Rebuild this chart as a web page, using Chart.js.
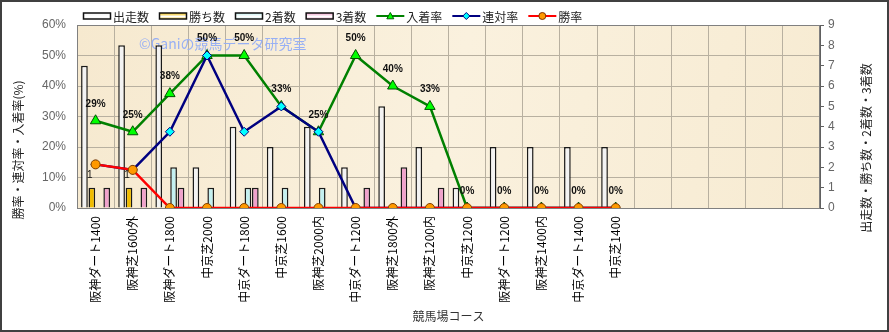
<!DOCTYPE html>
<html lang="ja">
<head>
<meta charset="UTF-8">
<title>競馬場コース別成績</title>
<script src="https://cdn.jsdelivr.net/npm/chart.js"></script>
<style>
  html, body { margin: 0; padding: 0; background: #fff; }
  #wrap { width: 889px; height: 332px; }
</style>
</head>
<body>
<div id="wrap"><canvas id="courseChart" width="889" height="332"></canvas></div>
<script>
// コース名と成績
const courses = ['阪神ダート1400', '阪神芝1600外', '阪神ダート1800', '中京芝2000', '中京ダート1800',
  '中京芝1600', '阪神芝2000内', '中京ダート1200', '阪神芝1800外', '阪神芝1200内',
  '中京芝1200', '阪神ダート1200', '阪神芝1400内', '中京ダート1400', '中京芝1400'];
const starts  = [7, 8, 8, 2, 4, 3, 4, 2, 5, 3, 1, 3, 3, 3, 3];   // 出走数
const wins    = [1, 1, 0, 0, 0, 0, 0, 0, 0, 0, 0, 0, 0, 0, 0];   // 勝ち数
const seconds = [0, 0, 2, 1, 1, 1, 1, 0, 0, 0, 0, 0, 0, 0, 0];   // 2着数
const thirds  = [1, 1, 1, 0, 1, 0, 0, 1, 2, 1, 0, 0, 0, 0, 0];   // 3着数
const placeRate = [28.6, 25, 37.5, 50, 50, 33.3, 25, 50, 40, 33.3, 0, 0, 0, 0, 0];  // 入着率
const quinRate  = [14.3, 12.5, 25, 50, 25, 33.3, 25, 0, 0, 0, 0, 0, 0, 0, 0];      // 連対率
const winRate   = [14.3, 12.5, 0, 0, 0, 0, 0, 0, 0, 0, 0, 0, 0, 0, 0];            // 勝率
const rateTicks  = [0, 10, 20, 30, 40, 50, 60];
const countTicks = [0, 1, 2, 3, 4, 5, 6, 7, 8, 9];
const slotCount = 20;   // 軸の枠数 (空き枠あり)

const labels = courses.concat(Array(slotCount - courses.length).fill(''));
const jp = '"Noto Sans CJK JP", sans-serif';

function drawMarker(ctx, type, x, y, r, fill, stroke) {
  ctx.beginPath();
  if (type === 'triangle') {
    ctx.moveTo(x, y - r); ctx.lineTo(x + r, y + r * 0.8); ctx.lineTo(x - r, y + r * 0.8); ctx.closePath();
  } else if (type === 'diamond') {
    ctx.moveTo(x, y - r); ctx.lineTo(x + r, y); ctx.lineTo(x, y + r); ctx.lineTo(x - r, y); ctx.closePath();
  } else {
    ctx.arc(x, y, r, 0, Math.PI * 2);
  }
  ctx.fillStyle = fill; ctx.fill();
  ctx.lineWidth = 1; ctx.strokeStyle = stroke; ctx.stroke();
}

const decor = {
  id: 'decor',
  beforeDraw(chart) {
    const { ctx, chartArea: a } = chart;
    ctx.save();
    ctx.fillStyle = '#fff';
    ctx.fillRect(0, 0, chart.width, chart.height);
    const g = ctx.createLinearGradient(a.left, a.top, a.right, a.bottom);
    g.addColorStop(0, '#f6e9cf');
    g.addColorStop(0.5, '#faf1de');
    g.addColorStop(1, '#f7ebd2');
    ctx.fillStyle = g;
    ctx.fillRect(a.left, a.top, a.right - a.left, a.bottom - a.top);
    ctx.restore();
  },
  beforeDatasetsDraw(chart) {
    const ctx = chart.ctx;
    ctx.save();
    ctx.font = '14px ' + jp;
    ctx.fillStyle = '#98b0f4';
    ctx.textBaseline = 'middle';
    ctx.fillText('©Ganiの競馬データ研究室', 139, 44);
    ctx.restore();
  },
  afterDatasetsDraw(chart) {
    const ctx = chart.ctx;
    ctx.save();
    ctx.textAlign = 'center';
    ctx.textBaseline = 'middle';
    ctx.fillStyle = '#111';
    // 入着率ラベル
    ctx.font = 'bold 10px "Liberation Sans", sans-serif';
    chart.getDatasetMeta(4).data.forEach((p, i) => {
      ctx.fillText(Math.round(placeRate[i]) + '%', p.x, p.y - 17);
    });
    // 勝ち数ラベル
    ctx.font = '10px "Liberation Sans", sans-serif';
    chart.getDatasetMeta(1).data.forEach((b, i) => {
      if (wins[i] > 0) ctx.fillText(String(wins[i]), b.x - 2, b.y - 12);
    });
    ctx.restore();
  },
  afterDraw(chart) {
    const { ctx, chartArea: a } = chart;
    ctx.save();
    // プロット枠
    ctx.strokeStyle = '#808080';
    ctx.lineWidth = 1;
    ctx.strokeRect(a.left + 0.5, a.top + 0.5, a.right - a.left - 1, a.bottom - a.top);

    // 凡例
    const items = [
      { t: '出走数', kind: 'bar', c: '#f2f2f2' },
      { t: '勝ち数', kind: 'bar', c: '#f0bc00' },
      { t: '2着数', kind: 'bar', c: '#c4f0f0' },
      { t: '3着数', kind: 'bar', c: '#f0a2cc' },
      { t: '入着率', kind: 'line', c: '#008000', m: 'triangle', mf: '#00ff00', ms: '#006000' },
      { t: '連対率', kind: 'line', c: '#000080', m: 'diamond', mf: '#00ffff', ms: '#000080' },
      { t: '勝率', kind: 'line', c: '#ff0000', m: 'circle', mf: '#ff9900', ms: '#803000' }
    ];
    ctx.font = '12px ' + jp;
    ctx.textBaseline = 'middle';
    let x = 83;
    const y = 16;
    items.forEach(it => {
      if (it.kind === 'bar') {
        const g = ctx.createLinearGradient(0, y - 3, 0, y + 4);
        g.addColorStop(0, it.c); g.addColorStop(0.5, '#ffffff'); g.addColorStop(1, it.c);
        ctx.fillStyle = g;
        ctx.fillRect(x, y - 3, 28, 6);
        ctx.strokeStyle = '#111'; ctx.lineWidth = 1.5;
        ctx.strokeRect(x + 0.5, y - 3, 27, 6);
      } else {
        ctx.strokeStyle = it.c; ctx.lineWidth = 2;
        ctx.beginPath(); ctx.moveTo(x, y); ctx.lineTo(x + 28, y); ctx.stroke();
        drawMarker(ctx, it.m, x + 14, y, 3.5, it.mf, it.ms);
      }
      ctx.fillStyle = '#222';
      ctx.fillText(it.t, x + 30, y + 1);
      x += 30 + ctx.measureText(it.t).width + 10;
    });

    // 軸タイトル
    ctx.font = '12px ' + jp;
    ctx.fillStyle = '#222';
    ctx.textAlign = 'center';
    ctx.save();
    ctx.translate(18, 150); ctx.rotate(-Math.PI / 2);
    ctx.fillText('勝率・連対率・入着率(%)', 0, 0);
    ctx.restore();
    ctx.save();
    ctx.translate(866, 148); ctx.rotate(-Math.PI / 2);
    ctx.fillText('出走数・勝ち数・2着数・3着数', 0, 0);
    ctx.restore();

    // 外枠
    ctx.strokeStyle = '#404040';
    ctx.lineWidth = 2;
    ctx.strokeRect(1, 1, chart.width - 2, chart.height - 2);
    ctx.restore();
  }
};

const barBase = { type: 'bar', yAxisID: 'y1', borderColor: '#1a1a1a', borderWidth: 1.5,
  barPercentage: 0.9, categoryPercentage: 0.8, order: 10 };
const lineBase = { type: 'line', yAxisID: 'y', borderWidth: 2.5, pointBorderWidth: 1, tension: 0 };

const ctx = document.getElementById('courseChart').getContext('2d');
const courseChart = new Chart(ctx, {
  data: {
    labels: labels,
    datasets: [
      { ...barBase, label: '出走数', data: starts, backgroundColor: '#f3f3f3' },
      { ...barBase, label: '勝ち数', data: wins, backgroundColor: '#f0bc00' },
      { ...barBase, label: '2着数', data: seconds, backgroundColor: '#c4f0f0' },
      { ...barBase, label: '3着数', data: thirds, backgroundColor: '#f0a2cc' },
      { ...lineBase, label: '入着率', data: placeRate, borderColor: '#008000',
        pointStyle: 'triangle', pointRadius: 6, pointBackgroundColor: '#00ff00', pointBorderColor: '#005000', order: 3 },
      { ...lineBase, label: '連対率', data: quinRate, borderColor: '#000080',
        pointStyle: 'rectRot', pointRadius: 4.5, pointBackgroundColor: '#00ffff', pointBorderColor: '#000080', order: 2 },
      { ...lineBase, label: '勝率', data: winRate, borderColor: '#ff0000',
        pointStyle: 'circle', pointRadius: 4.5, pointBackgroundColor: '#ff9900', pointBorderColor: '#804000', order: 1 }
    ]
  },
  options: {
    responsive: false,
    animation: false,
    devicePixelRatio: 1,
    layout: { padding: { top: 25, left: 0, right: 0, bottom: 0 } },
    plugins: { legend: { display: false }, tooltip: { enabled: false } },
    scales: {
      x: {
        offset: true,
        grid: { color: '#b8b0a0', borderDash: [2, 2], offset: true, drawTicks: false },
        border: { color: '#606060' },
        ticks: { autoSkip: false, minRotation: 90, maxRotation: 90, padding: 8, color: '#000',
          font: { family: jp, size: 12 } },
        title: { display: true, text: '競馬場コース', color: '#333', font: { family: jp, size: 12 },
          padding: { top: 0, bottom: 8 } },
        afterFit(s) { s.height = 124; }
      },
      y: {
        position: 'left',
        min: 0, max: 60,
        afterBuildTicks(s) { s.ticks = rateTicks.map(v => ({ value: v })); },
        grid: { color: '#b8b0a0', borderDash: [2, 2], drawTicks: false },
        border: { color: '#606060' },
        ticks: { padding: 11, color: '#666', font: { family: '"Liberation Sans", sans-serif', size: 12 },
          callback: v => v + '%' },
        afterFit(s) { s.width = 77; }
      },
      y1: {
        position: 'right',
        min: 0, max: 9,
        afterBuildTicks(s) { s.ticks = countTicks.map(v => ({ value: v })); },
        grid: { drawOnChartArea: false, tickLength: 4, color: '#606060' },
        border: { color: '#606060' },
        ticks: { padding: 4, color: '#666', font: { family: '"Liberation Sans", sans-serif', size: 12 } },
        afterFit(s) { s.width = 69; }
      }
    }
  },
  plugins: [decor]
});
</script>
</body>
</html>
